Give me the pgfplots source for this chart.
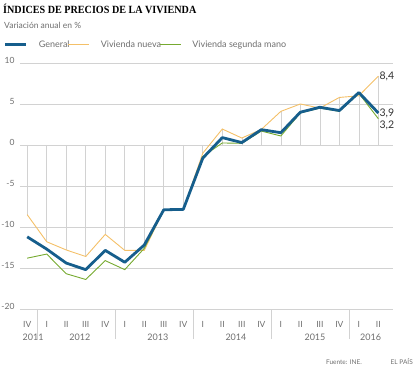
\documentclass[border=0pt]{standalone}
\usepackage{pgfplots}
\pgfplotsset{compat=1.18}
\usepackage{pgfplotstable}
\usepackage{fontspec}
\setmainfont{Lato}
\newfontfamily\titlefont[FakeStretch=0.92]{Liberation Serif}
\definecolor{cblue}{RGB}{22,94,140}
\definecolor{cyel}{RGB}{244,192,104}
\definecolor{cgreen}{RGB}{118,170,48}
\definecolor{ctext}{RGB}{110,110,110}
\definecolor{cgrid}{RGB}{210,210,210}
\definecolor{cdark}{RGB}{50,50,50}
\pgfplotstableread{
i G N S
0 -11.2 -8.5 -13.8
1 -12.7 -11.8 -13.3
2 -14.4 -12.8 -15.7
3 -15.2 -13.6 -16.4
4 -12.85 -10.9 -14.1
5 -14.3 -12.85 -15.2
6 -12.2 -12.85 -12.6
7 -7.9 -7.9 -7.9
8 -7.85 -7.85 -7.85
9 -1.6 -1.0 -1.4
10 0.9 1.95 0.25
11 0.3 0.85 0.2
12 1.87 1.9 1.7
13 1.5 4.1 1.1
14 4.0 5.0 3.9
15 4.6 4.5 4.5
16 4.2 5.8 4.1
17 6.4 6.0 6.3
18 3.9 8.4 3.2
}\datatable
\begin{document}
\begin{tikzpicture}
\useasboundingbox (0pt,0pt) rectangle (414pt,369pt);
\node[anchor=base west,inner sep=0pt,font=\titlefont\bfseries\fontsize{11}{13}\selectfont] at (3pt,355.7pt) {ÍNDICES DE PRECIOS DE LA VIVIENDA};
\node[anchor=base west,inner sep=0pt,text=ctext,font=\fontsize{8.5}{10}\selectfont] at (4pt,340.7pt) {Variación anual en \%};
\node[anchor=base east,inner sep=0pt,text=ctext,font=\fontsize{6.5}{8}\selectfont] at (362pt,5pt) {Fuente: INE.};
\node[anchor=base east,inner sep=0pt,text=ctext,font=\fontsize{6.5}{8}\selectfont] at (413pt,5pt) {EL PAÍS};
\begin{axis}[
  at={(20pt,60pt)}, anchor=south west,
  scale only axis, width=373pt, height=246pt,
  xmin=-0.37, xmax=18.75, ymin=-20, ymax=10,
  axis line style={draw=none},
  clip=false,
  ytick={-20,-15,...,10},
  ymajorgrids, grid style={cgrid, line width=0.6pt},
  major tick length=0pt,
  xtick={0,...,18},
  xticklabels={IV,I,II,III,IV,I,II,III,IV,I,II,III,IV,I,II,III,IV,I,II},
  xtick pos=lower, ytick pos=left,
  extra x ticks={0.5,4.5,8.5,12.5,16.5},
  extra x tick labels={},
  extra x tick style={major tick length=30pt, tick align=outside, tick style={cgrid, line width=0.5pt}, grid=none},
  /pgf/number format/assume math mode=true,
  yticklabel style={text=ctext, font=\fontsize{8.5}{10}\selectfont, anchor=east, xshift=-2pt, yshift=3pt},
  xticklabel style={text=ctext, font=\fontsize{8.5}{10}\selectfont, yshift=-9pt},
  legend columns=3,
  legend cell align=left,
  legend style={draw=none, fill=none, inner sep=0pt, at={(axis description cs:-0.043,1.075)}, anchor=west,
    font=\fontsize{9}{11}\selectfont, text=ctext,
    nodes={inner sep=1pt},
    /tikz/every odd column/.append style={column sep=10pt},
    /tikz/every even column/.append style={column sep=-3pt}},
  legend image code/.code={\draw[#1] (0pt,0pt) -- (21pt,0pt);},
]
\addlegendimage{cblue, line width=2.6pt}
\addlegendentry{General}
\addlegendimage{cyel, line width=1.2pt}
\addlegendentry{Vivienda nueva}
\addlegendimage{cgreen, line width=1.2pt}
\addlegendentry{Vivienda segunda mano}
\addplot[ycomb, cgrid, line width=0.6pt, forget plot] table[x=i,y=N] {\datatable};
\addplot[cyel, line width=0.9pt, forget plot] table[x=i,y=N] {\datatable};
\addplot[cgreen, line width=0.9pt, forget plot] table[x=i,y=S] {\datatable};
\addplot[cblue, line width=2.8pt, line join=round, forget plot] table[x=i,y=G] {\datatable};
\node[anchor=west, text=cdark, font=\fontsize{10.5}{12}\selectfont, inner sep=1pt] at (axis cs:18,8.4) {8,4};
\node[anchor=west, text=cdark, font=\fontsize{10.5}{12}\selectfont, inner sep=1pt] at (axis cs:18,3.9) {3,9};
\node[anchor=west, text=cdark, font=\fontsize{10.5}{12}\selectfont, inner sep=1pt, yshift=-7pt] at (axis cs:18,3.2) {3,2};
\foreach \yr/\xp in {2011/0.3, 2012/2.7, 2013/6.7, 2014/10.7, 2015/14.75, 2016/17.6} {
  \edef\tmp{\noexpand\node[text=ctext, font=\noexpand\fontsize{9}{11}\noexpand\selectfont, inner sep=0pt] at (axis cs:\xp,-20) [yshift=-28pt] {\yr};}
  \tmp
}
\end{axis}
\end{tikzpicture}
\end{document}
